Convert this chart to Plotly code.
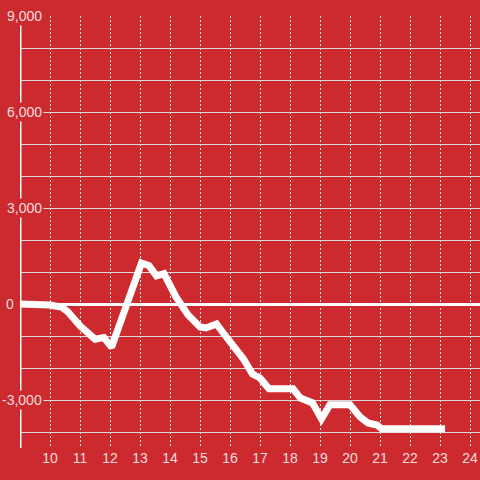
import plotly.graph_objects as go

# --- data ---
x_vals = [8.9, 9.5, 10.0, 10.4, 10.6, 11.0, 11.2, 11.5, 11.8, 12.05, 12.45, 12.8, 13.05, 13.3,
          13.55, 13.8, 14.2, 14.6, 15.0, 15.2, 15.55, 15.75, 16.1, 16.45, 16.75, 17.0, 17.3,
          18.1, 18.35, 18.75, 19.05, 19.33, 20.0, 20.33, 20.6, 20.9, 21.05, 23.17]
y_vals = [0, 0, -30, -100, -250, -680, -850, -1100, -1050, -1350, -300, 700, 1280, 1200,
          880, 950, 220, -340, -720, -750, -625, -875, -1310, -1720, -2190, -2310, -2650,
          -2650, -2940, -3090, -3590, -3150, -3150, -3520, -3720, -3780, -3900, -3900]

x_ticks = list(range(10, 25))
y_grid = list(range(-4000, 10000, 1000))
y_label_vals = [9000, 6000, 3000, 0, -3000]
y_label_text = ["9,000", "6,000", "3,000", "0", "-3,000"]

BG = "#cd2a2f"
LABEL = "rgba(255,255,255,0.85)"
FONT = "Liberation Sans, Arial, sans-serif"

fig = go.Figure()
fig.add_trace(go.Scatter(x=x_vals, y=y_vals, mode="lines",
                         line=dict(color="white", width=7), hoverinfo="skip"))

# y axis line
fig.add_shape(type="line", xref="x", yref="y", x0=9, x1=9, y0=-4500, y1=9000,
              line=dict(color="white", width=3), layer="above")

annotations = []
for v, t in zip(y_label_vals, y_label_text):
    px_right = 16 if v == 0 else 44
    annotations.append(dict(
        text=t, xref="paper", yref="y", x=(px_right - 20) / 460, y=v,
        xanchor="right", yanchor="middle", showarrow=False,
        bgcolor=BG, borderpad=1,
        font=dict(family=FONT, size=14, color=LABEL)))

fig.update_layout(
    width=480, height=480,
    margin=dict(l=20, r=0, t=16, b=32),
    paper_bgcolor=BG, plot_bgcolor=BG,
    showlegend=False,
    font=dict(family=FONT, size=14, color=LABEL),
    xaxis=dict(range=[9, 9 + 460 / 30], tickvals=x_ticks, ticktext=[str(v) for v in x_ticks],
               showgrid=True, gridcolor="rgba(255,255,255,0.85)", gridwidth=1,
               griddash="2px,2px", zeroline=False, showline=False, ticks="",
               tickfont=dict(family=FONT, size=14, color=LABEL)),
    yaxis=dict(range=[-4500, 9000], tickvals=y_grid, showticklabels=False,
               showgrid=True, gridcolor="#d9d9d9", gridwidth=1,
               zeroline=True, zerolinecolor="white", zerolinewidth=3,
               showline=False, ticks=""),
    annotations=annotations,
)

fig.write_html("out.html",
               config={"displayModeBar": False},
               post_script="document.body.style.margin='0px';document.body.style.overflow='hidden';document.body.style.background='" + BG + "';")
